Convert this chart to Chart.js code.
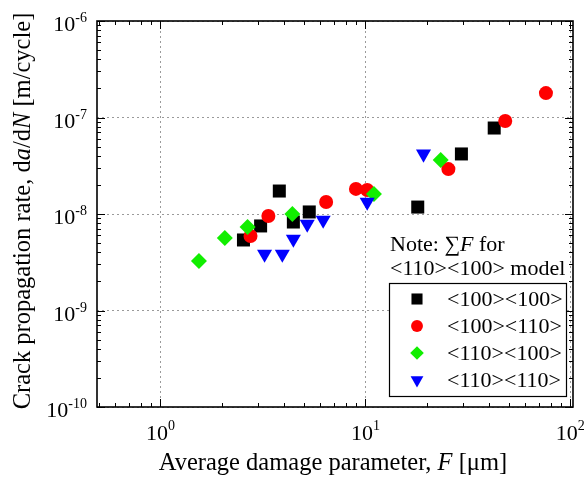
<!DOCTYPE html>
<html>
<head>
<meta charset="utf-8">
<script src="https://cdn.jsdelivr.net/npm/chart.js@4.4.1/dist/chart.umd.min.js"></script>
<style>
  html, body { margin: 0; padding: 0; background: #fff; }
  #wrap { width: 586px; height: 478px; }
</style>
</head>
<body>
<div id="wrap"><canvas id="chart" width="586" height="478"></canvas></div>
<script>
// data (F in um, da/dN in m/cycle)
const seriesNames = ['<100><100>', '<100><110>', '<110><100>', '<110><110>'];

const blackX = [2.54, 3.08, 3.80, 4.45, 5.32, 18.0, 29.4, 42.5];
const blackY = [5.38e-9, 7.52e-9, 1.73e-8, 8.26e-9, 1.05e-8, 1.18e-8, 4.19e-8, 7.78e-8];

const redX = [2.75, 3.36, 6.43, 8.99, 10.2, 25.4, 48.1, 76.0];
const redY = [5.91e-9, 9.53e-9, 1.33e-8, 1.82e-8, 1.77e-8, 2.92e-8, 9.2e-8, 1.79e-7];

const greenX = [1.54, 2.06, 2.66, 4.40, 11.0, 23.3];
const greenY = [3.26e-9, 5.64e-9, 7.33e-9, 1.0e-8, 1.61e-8, 3.63e-8];

const blueX = [3.22, 3.93, 4.45, 5.20, 6.22, 10.2, 19.2];
const blueY = [3.85e-9, 3.85e-9, 5.51e-9, 7.87e-9, 8.67e-9, 1.33e-8, 4.19e-8];

const xTickExps = [0, 1, 2];
const yTickExps = [-6, -7, -8, -9, -10];

const FONT = '"Liberation Serif", "Times New Roman", serif';

// 🛠️ helpers
function toPoints(xs, ys) {
  return xs.map((x, i) => ({ x: x, y: ys[i] }));
}

const markers = [
  { color: '#000000', style: 'rect', radius: 9.2, rotation: 0 },
  { color: '#ff0000', style: 'circle', radius: 7, rotation: 0 },
  { color: '#11ee00', style: 'rectRot', radius: 8, rotation: 0 },
  { color: '#0000ff', style: 'triangle', radius: 8.7, rotation: 180 }
];

function makeDataset(i, xs, ys) {
  const m = markers[i];
  return {
    label: seriesNames[i],
    data: toPoints(xs, ys),
    backgroundColor: m.color,
    borderWidth: 0,
    pointStyle: m.style,
    pointRadius: m.radius,
    pointRotation: m.rotation,
    order: 4 - i
  };
}

function decadeTicks(exps) {
  return exps.map(e => ({ value: Math.pow(10, e) }));
}

function drawPow(ctx, x, y, exp, mode) {
  ctx.font = '22px ' + FONT;
  const w10 = ctx.measureText('10').width;
  ctx.font = '14px ' + FONT;
  const wExp = ctx.measureText(String(exp)).width;
  let start;
  if (mode === 'y') {
    start = x - w10 - wExp;
    ctx.font = '22px ' + FONT;
    ctx.fillText('10', start, y + 10);
    ctx.font = '14px ' + FONT;
    ctx.fillText(String(exp), start + w10, y + 1);
  } else {
    start = x - (w10 + wExp) / 2;
    ctx.font = '22px ' + FONT;
    ctx.fillText('10', start, y);
    ctx.font = '14px ' + FONT;
    ctx.fillText(String(exp), start + w10, y - 10);
  }
}

// mixed upright / italic text, pieces = [[text, italic], ...]
function drawRich(ctx, pieces, x, y, size, center) {
  let total = 0;
  pieces.forEach(p => {
    ctx.font = (p[1] ? 'italic ' : '') + size + 'px ' + FONT;
    total += ctx.measureText(p[0]).width;
  });
  let cx = center ? x - total / 2 : x;
  pieces.forEach(p => {
    ctx.font = (p[1] ? 'italic ' : '') + size + 'px ' + FONT;
    ctx.fillText(p[0], cx, y);
    cx += ctx.measureText(p[0]).width;
  });
}

// 🎯 frame, inward ticks, labels, titles, legend
const decorPlugin = {
  id: 'decor',
  afterDraw(chart) {
    const ctx = chart.ctx;
    const area = chart.chartArea;
    const xs = chart.scales.x;
    const ys = chart.scales.y;
    ctx.save();
    ctx.strokeStyle = '#000';
    ctx.fillStyle = '#000';

    // inward ticks on all four sides
    ctx.lineWidth = 1;
    ctx.beginPath();
    for (let d = -1; d <= 2; d++) {
      for (let k = 1; k <= 9; k++) {
        const v = k * Math.pow(10, d);
        if (v < xs.min || v > xs.max) continue;
        const px = Math.round(xs.getPixelForValue(v)) + 0.5;
        const len = k === 1 ? 8 : 4;
        ctx.moveTo(px, area.bottom); ctx.lineTo(px, area.bottom - len);
        ctx.moveTo(px, area.top); ctx.lineTo(px, area.top + len);
      }
    }
    for (let d = -10; d <= -6; d++) {
      for (let k = 1; k <= 9; k++) {
        const v = k * Math.pow(10, d);
        if (v < ys.min * 0.999 || v > ys.max * 1.001) continue;
        const py = Math.round(ys.getPixelForValue(v)) + 0.5;
        const len = k === 1 ? 8 : 4;
        ctx.moveTo(area.left, py); ctx.lineTo(area.left + len, py);
        ctx.moveTo(area.right, py); ctx.lineTo(area.right - len, py);
      }
    }
    ctx.stroke();

    // frame
    ctx.lineWidth = 1.6;
    ctx.strokeRect(area.left, area.top, area.right - area.left, area.bottom - area.top);

    // tick labels
    ctx.textAlign = 'left';
    ctx.textBaseline = 'alphabetic';
    xTickExps.forEach(e => {
      drawPow(ctx, xs.getPixelForValue(Math.pow(10, e)), 440, e, 'x');
    });
    yTickExps.forEach(e => {
      drawPow(ctx, 87, ys.getPixelForValue(Math.pow(10, e)), e, 'y');
    });

    // axis titles
    drawRich(ctx, [['Average damage parameter, ', false], ['F', true], [' [\u03bcm]', false]],
      333, 470, 24.5, true);
    ctx.save();
    ctx.translate(30, 211);
    ctx.rotate(-Math.PI / 2);
    drawRich(ctx, [['Crack propagation rate, d', false], ['a', true], ['/d', false], ['N', true], [' [m/cycle]', false]],
      0, 0, 24.5, true);
    ctx.restore();

    // note above legend
    drawRich(ctx, [['Note: \u2211', false], ['F', true], [' for', false]], 390, 251, 22, false);
    drawRich(ctx, [['<110><100> model', false]], 390, 275, 22, false);

    // legend box
    ctx.fillStyle = '#fff';
    ctx.fillRect(389, 283, 177, 113);
    ctx.lineWidth = 1.2;
    ctx.strokeRect(389.5, 283.5, 177, 113);
    const rows = [299, 326, 353, 380];
    seriesNames.forEach((name, i) => {
      const m = markers[i];
      ctx.fillStyle = m.color;
      Chart.helpers.drawPoint(ctx, { pointStyle: m.style, radius: m.radius * 0.85, rotation: m.rotation, borderWidth: 0 }, 417, rows[i]);
      ctx.fillStyle = '#000';
      ctx.font = '22px ' + FONT;
      ctx.fillText(name, 447, rows[i] + 7);
    });
    ctx.restore();
  }
};

const gridColor = (c) => {
  if (!c.tick) return 'rgba(0,0,0,0)';
  const e = Math.log10(c.tick.value);
  return Math.abs(e - Math.round(e)) < 1e-6 ? '#9a9a9a' : 'rgba(0,0,0,0)';
};

new Chart(document.getElementById('chart'), {
  type: 'scatter',
  data: {
    datasets: [
      makeDataset(0, blackX, blackY),
      makeDataset(1, redX, redY),
      makeDataset(2, greenX, greenY),
      makeDataset(3, blueX, blueY)
    ]
  },
  options: {
    responsive: false,
    devicePixelRatio: 1,
    animation: false,
    layout: { padding: { left: 97, right: 13, top: 21, bottom: 71 } },
    plugins: { legend: { display: false }, tooltip: { enabled: false } },
    scales: {
      x: {
        type: 'logarithmic',
        min: 0.49,
        max: 103,
        afterBuildTicks: (scale) => { scale.ticks = decadeTicks(xTickExps); },
        ticks: { display: false },
        grid: { drawTicks: false, color: gridColor, lineWidth: 1 },
        border: { display: false, dash: [2, 3] }
      },
      y: {
        type: 'logarithmic',
        min: 1e-10,
        max: 1e-6,
        afterBuildTicks: (scale) => { scale.ticks = decadeTicks(yTickExps); },
        ticks: { display: false },
        grid: { drawTicks: false, color: gridColor, lineWidth: 1 },
        border: { display: false, dash: [2, 3] }
      }
    }
  },
  plugins: [decorPlugin]
});
</script>
</body>
</html>
